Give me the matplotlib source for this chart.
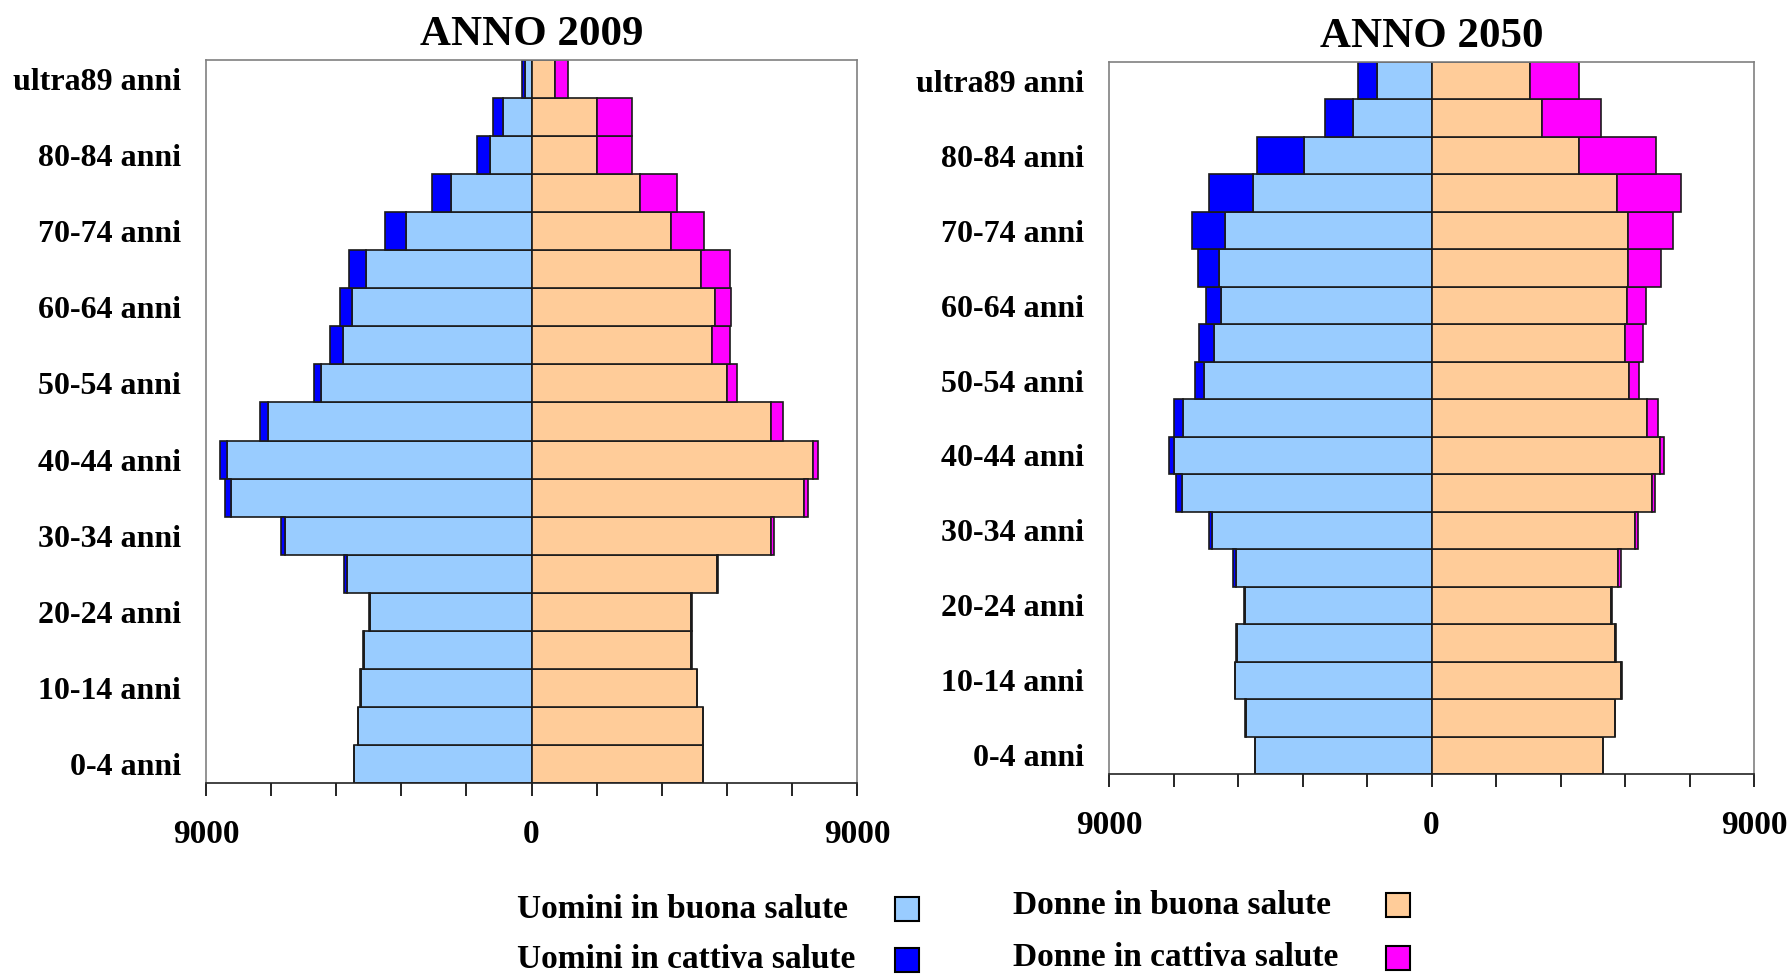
import matplotlib
matplotlib.use("Agg")
import matplotlib.pyplot as plt
from matplotlib.patches import Rectangle
import numpy as np

plt.rcParams['font.family'] = ['Liberation Serif', 'DejaVu Serif']
plt.rcParams['font.weight'] = 'bold'

age_groups = ["0-4 anni", "5-9 anni", "10-14 anni", "15-19 anni", "20-24 anni", "25-29 anni",
              "30-34 anni", "35-39 anni", "40-44 anni", "45-49 anni", "50-54 anni", "55-59 anni",
              "60-64 anni", "65-69 anni", "70-74 anni", "75-79 anni", "80-84 anni", "85-89 anni",
              "ultra89 anni"]

# 2009 (ordered from 0-4 up to ultra89)
men_good_2009 = [4911, 4800, 4721, 4642, 4468, 5100, 6821, 8321, 8432, 7295, 5811, 5211,
                 4958, 4563, 3474, 2227, 1137, 775, 175]
men_bad_2009 = [10, 10, 10, 15, 15, 79, 95, 158, 190, 221, 190, 347,
                332, 474, 568, 537, 363, 285, 95]
women_good_2009 = [4737, 4737, 4579, 4421, 4421, 5132, 6632, 7547, 7785, 6632, 5416, 4990,
                   5084, 4690, 3869, 3000, 1815, 1815, 650]
women_bad_2009 = [5, 5, 10, 10, 15, 30, 79, 110, 126, 332, 268, 505,
                  442, 805, 900, 1010, 965, 965, 350]

# 2050
men_good_2050 = [4925, 5184, 5476, 5427, 5200, 5459, 6124, 6966, 7177, 6934, 6350, 6075,
                 5881, 5929, 5767, 4990, 3564, 2203, 1507]
men_bad_2050 = [5, 10, 20, 30, 20, 81, 81, 162, 162, 243, 243, 405,
                405, 583, 907, 1215, 1312, 778, 535]
women_good_2050 = [4779, 5119, 5297, 5119, 5006, 5200, 5670, 6140, 6367, 6026, 5508, 5395,
                   5443, 5476, 5476, 5168, 4115, 3094, 2738]
women_bad_2050 = [5, 10, 10, 20, 30, 81, 81, 97, 113, 308, 275, 502,
                  535, 923, 1264, 1782, 2138, 1636, 1377]

years = ["ANNO 2009", "ANNO 2050"]
xtick_vals = [-9000, 0, 9000]
xtick_labels = ["9000", "0", "9000"]
minor_step = 1800

legend_labels = ["Uomini in buona salute", "Uomini in cattiva salute",
                 "Donne in buona salute", "Donne in cattiva salute"]
c_men_good = "#99CCFF"
c_men_bad = "#0000FF"
c_women_good = "#FFCC99"
c_women_bad = "#FF00FF"

fig = plt.figure(figsize=(17.92, 9.76), dpi=100)
ax1 = fig.add_axes([206/1792, 1-783/976, (857-206)/1792, (783-60)/976])
ax2 = fig.add_axes([1109/1792, 1-774/976, (1754-1109)/1792, (774-62)/976])

datasets = [
    (men_good_2009, men_bad_2009, women_good_2009, women_bad_2009),
    (men_good_2050, men_bad_2050, women_good_2050, women_bad_2050),
]

for ax, title, (mg, mb, wg, wb) in zip([ax1, ax2], years, datasets):
    y = np.arange(len(age_groups))
    mg = np.array(mg); mb = np.array(mb); wg = np.array(wg); wb = np.array(wb)
    kw = dict(height=1.0, edgecolor="#1a1a1a", linewidth=1.2)
    ax.barh(y, -mg, color=c_men_good, **kw)
    ax.barh(y, -mb, left=-mg, color=c_men_bad, **kw)
    ax.barh(y, wg, color=c_women_good, **kw)
    ax.barh(y, wb, left=wg, color=c_women_bad, **kw)
    ax.set_xlim(-9000, 9000)
    ax.set_ylim(-0.5, len(age_groups) - 0.5)
    ax.set_yticks(y[::2])
    ax.set_yticklabels([age_groups[i] for i in y[::2]], fontsize=23, fontweight='bold')
    ax.tick_params(axis='y', length=0, pad=18)
    ax.set_xticks(xtick_vals)
    ax.set_xticklabels(xtick_labels, fontsize=24, fontweight='bold')
    ax.set_xticks(np.arange(-9000, 9001, minor_step), minor=True)
    ax.tick_params(axis='x', which='both', direction='out', length=9, width=1.2, pad=17)
    for s in ['top', 'right', 'left']:
        ax.spines[s].set_color("#808080")
        ax.spines[s].set_linewidth(1.2)
    ax.spines['bottom'].set_color("#222222")
    ax.spines['bottom'].set_linewidth(1.2)
    ax.set_title(title, fontsize=31, fontweight='bold', pad=11)

# legend (manual)
leg_items = [
    (legend_labels[0], c_men_good, 517, 909, 895),
    (legend_labels[1], c_men_bad, 517, 960, 895),
    (legend_labels[2], c_women_good, 1013, 905, 1386),
    (legend_labels[3], c_women_bad, 1013, 958, 1386),
]
for text, col, tx, ty, bx in leg_items:
    fig.text(tx/1792, 1-ty/976, text, fontsize=24, fontweight='bold', ha='left', va='center')
    fig.add_artist(Rectangle((bx/1792, 1-(ty+12)/976), 24/1792, 24/976,
                             facecolor=col, edgecolor="black", linewidth=1.5,
                             transform=fig.transFigure))

fig.savefig("out.png", dpi=100)
